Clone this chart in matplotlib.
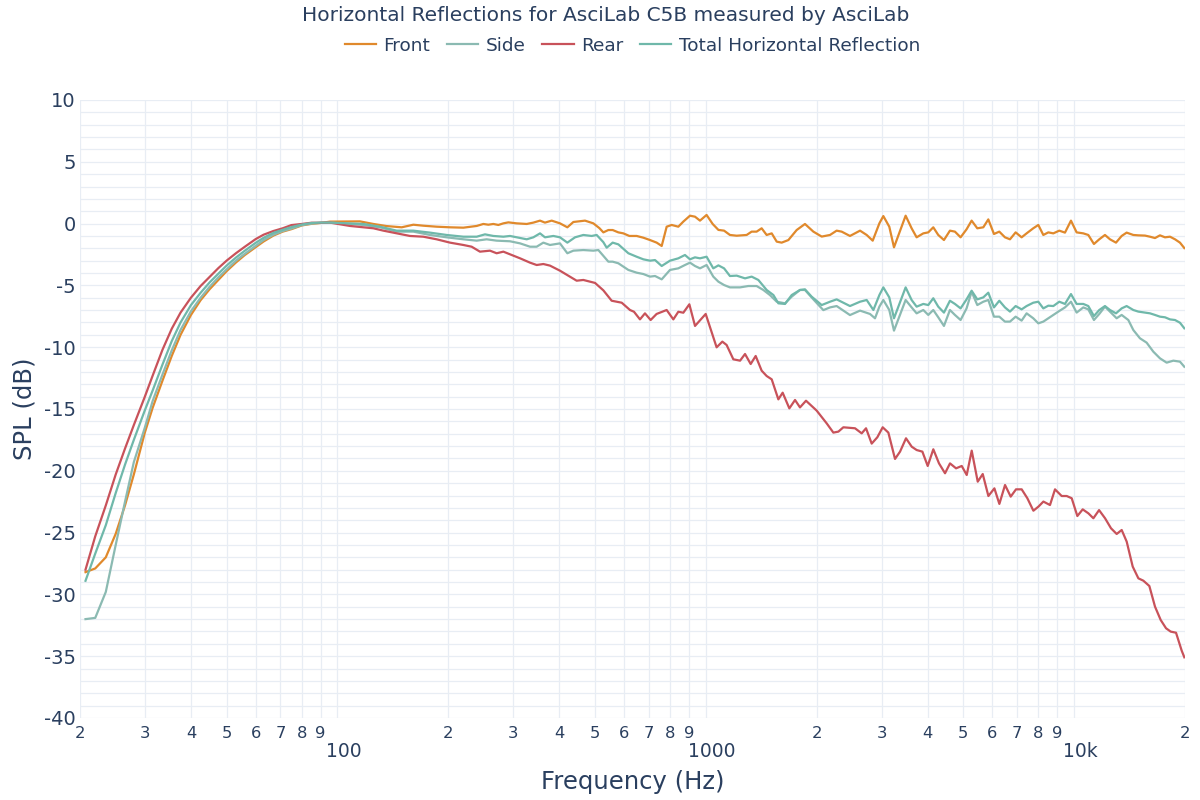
import matplotlib
matplotlib.use("Agg")
import matplotlib.pyplot as plt
from matplotlib.transforms import ScaledTranslation

plt.rcParams['font.family'] = ['DejaVu Sans']

title = "Horizontal Reflections for AsciLab C5B measured by AsciLab"
series_names = ["Front", "Side", "Rear", "Total Horizontal Reflection"]
colors = ["#e0892c", "#8bbab2", "#c8525a", "#6fb8aa"]

lf_freq = [20.7, 22, 23.5, 25, 26.5, 28, 30, 31.5, 33.5, 35.5, 37.5, 40, 42.5, 45,
           47.5, 50, 53, 56, 60, 63, 67, 71, 75, 80, 85, 90]

front_freq = lf_freq + [
    95.45, 115.1, 125.2, 136.0, 149.4, 160.7, 171.1, 185.9, 202.1, 219.7, 238.8, 248.9,
    256.8, 265, 273.4, 282.1, 291.1, 306.7, 326.5, 340.3, 354.8, 365.9, 381.6, 401.9,
    420.9, 437, 455.6, 470, 495.1, 513.9, 527.1, 543.9, 558.7, 578.9, 597.3, 620.1,
    649.1, 676.8, 705.6, 735.6, 759.1, 783.1, 807.9, 842.2, 868.9, 905.9, 934.7, 964.4,
    1005, 1044, 1082, 1121, 1163, 1213, 1291, 1332, 1374, 1418, 1463, 1510, 1558, 1607,
    1676, 1765, 1859, 1959, 2064, 2174, 2266, 2338, 2463, 2623, 2734, 2839, 2960, 3034,
    3149, 3243, 3488, 3621, 3736, 3895, 4018, 4146, 4277, 4432, 4601, 4747, 4918, 5105,
    5269, 5459, 5668, 5848, 6059, 6264, 6490, 6697, 6938, 7202, 7430, 7746, 7994, 8248,
    8511, 8781, 9115, 9444, 9805, 10158, 10591, 10927, 11319, 11703, 12127, 12513, 12992,
    13460, 13886, 14478, 14938, 15574, 16068, 16579, 17103, 17648, 18209, 18788, 19381,
    19914]
front_db = [
    -28.2, -27.9, -27.0, -25.1, -22.8, -20.3, -16.9, -14.9, -12.7, -10.7, -9.0, -7.4,
    -6.2, -5.3, -4.55, -3.85, -3.15, -2.55, -1.9, -1.45, -0.97, -0.65, -0.45, -0.15,
    -0.02, 0.05,
    0.16, 0.18, -0.03, -0.2, -0.3, -0.09, -0.17, -0.25, -0.30, -0.33, -0.19, -0.03,
    -0.09, -0.03, -0.11, 0.02, 0.1, 0.02, -0.03, 0.08, 0.24, 0.08, 0.24, 0.02,
    -0.3, 0.13, 0.19, 0.24, 0.02, -0.36, -0.71, -0.52, -0.52, -0.71, -0.79, -1.0,
    -1.0, -1.14, -1.33, -1.54, -1.81, -0.25, -0.11, -0.25, 0.16, 0.64, 0.56, 0.24,
    0.70, -0.03, -0.51, -0.57, -0.92, -0.98, -0.92, -0.65, -0.65, -0.38, -0.92, -0.79, -1.46, -1.54,
    -1.33, -0.52, -0.03, -0.65, -1.05, -0.92, -0.57, -0.65, -1.0, -0.57, -0.92, -1.38, 0.02, 0.61,
    -0.25, -1.92, 0.64, -0.38, -1.11, -0.79, -0.71, -0.30, -0.92, -1.33, -0.57, -0.65, -1.11, -0.46,
    0.24, -0.38, -0.30, 0.34, -0.84, -0.65, -1.11, -1.27, -0.71, -1.11, -0.79, -0.38, -0.11, -0.92,
    -0.71, -0.79, -0.57, -0.73, 0.24, -0.71, -0.79, -0.92, -1.65, -1.27, -0.92, -1.27, -1.54,
    -1.0, -0.73, -0.92, -0.95, -0.97, -1.06, -1.17, -0.95, -1.11, -1.06, -1.27, -1.54,
    -1.98]

side_freq = lf_freq + [
    95.45, 117.6, 130.5, 144.8, 160.7, 178.3, 197.9, 219.7, 238.8, 254.1, 270.5, 294.1,
    313.2, 333.3, 347.4, 362.2, 377.6, 401.9, 420.9, 437, 465.1, 495.1, 510.9, 543.9,
    558.7, 578.9, 616.3, 649.1, 676.8, 705.6, 728.1, 759.1, 799.5, 842.2, 878, 905.9,
    934.7, 964.4, 1005, 1048, 1082, 1121, 1163, 1239, 1305, 1374, 1433, 1493, 1558, 1641,
    1711, 1802, 1859, 1959, 2085, 2174, 2266, 2463, 2623, 2791, 2880, 2960, 3034,
    3149, 3243, 3488, 3621, 3736, 3895, 4018, 4146, 4277, 4432, 4601, 4747, 4918, 5105,
    5269, 5459, 5668, 5848, 6059, 6264, 6490, 6697, 6938, 7202, 7430, 7746, 7994, 8248,
    8511, 8781, 9115, 9444, 9805, 10158, 10591, 10927, 11319, 11703, 12127, 12513, 13045,
    13460, 14033, 14478, 15092, 15733, 16405, 17103, 17832, 18592, 19381, 19914]
side_db = [
    -32.0, -31.9, -29.8, -26.0, -22.5, -19.3, -16.5, -14.35, -12.2, -10.25, -8.6, -7.1,
    -6.0, -5.1, -4.35, -3.7, -3.0, -2.45, -1.8, -1.33, -0.9, -0.6, -0.4, -0.12,
    0.0, 0.07,
    0.08, -0.11, -0.30, -0.65, -0.65, -0.92, -1.11, -1.27, -1.38, -1.27, -1.38, -1.43,
    -1.6, -1.87, -1.87, -1.54, -1.73, -1.6, -2.4, -2.19, -2.14, -2.19, -2.14, -3.08,
    -3.08, -3.21, -3.75, -3.97, -4.08, -4.29, -4.24, -4.51, -3.75, -3.62, -3.35, -3.16,
    -3.43, -3.62, -3.35, -4.29, -4.7, -4.97, -5.16, -5.16, -5.05, -5.05, -5.37, -5.78, -6.32, -6.45,
    -5.91, -5.37, -5.37, -6.13, -7.0, -6.78, -6.67, -7.4, -7.04, -7.31, -7.66, -6.72, -6.18,
    -6.99, -8.66, -6.18, -6.78, -7.26, -6.99, -7.39, -6.99, -7.58, -8.28, -6.99, -7.39, -7.8, -6.86,
    -5.51, -6.59, -6.32, -6.18, -7.53, -7.53, -7.93, -7.93, -7.53, -7.85, -7.26, -7.66, -8.07, -7.93,
    -7.66, -7.39, -7.07, -6.78, -6.32, -7.2, -6.78, -6.94, -7.8, -7.31, -6.72, -7.12, -7.66,
    -7.39, -7.8, -8.61, -9.28, -9.63, -10.36, -10.9, -11.25, -11.09, -11.17, -11.58]

rear_freq = lf_freq + [
    95.45, 108.1, 117.6, 125.2, 133.2, 144.8, 157.3, 171.1, 185.9, 202.1, 219.7, 231.4,
    243.7, 259.5, 270.5, 282.1, 297.2, 313.2, 333.3, 347.4, 362.2, 377.6, 401.9, 427.9,
    446.1, 465.1, 484.9, 500.4, 527.1, 555.2, 591.2, 622.6, 638.3, 662.7, 683.7, 708.4,
    735.3, 783.0, 816.4, 842.3, 869.0, 902.3, 934.9, 999.4, 1070, 1109, 1139, 1188, 1239,
    1278, 1324, 1366, 1418, 1463, 1510, 1574, 1617, 1686, 1747, 1802, 1871, 2000, 2129,
    2220, 2291, 2363, 2542, 2650, 2723, 2821, 2922, 3022, 3131, 3264, 3368, 3496, 3623,
    3737, 3873, 4004, 4147, 4297, 4462, 4603, 4780, 4953, 5110, 5272, 5474, 5648, 5851,
    6075, 6267, 6493, 6727, 6954, 7205, 7465, 7752, 7999, 8252, 8600, 8874, 9252, 9547,
    9850, 10204, 10551, 10931, 11279, 11687, 12133, 12593, 13048, 13464, 13891, 14423,
    14943, 15415, 16004, 16581, 17181, 17764, 18288, 18909, 19590, 19918]
rear_db = [
    -28.0, -25.3, -22.8, -20.3, -18.2, -16.3, -14.0, -12.3, -10.2, -8.5, -7.2, -6.0,
    -5.05, -4.3, -3.6, -3.0, -2.4, -1.88, -1.25, -0.9, -0.6, -0.38, -0.12, -0.03,
    0.07, 0.07,
    0.08, -0.19, -0.30, -0.38, -0.57, -0.79, -1.0, -1.06, -1.27, -1.54, -1.73, -1.87,
    -2.27, -2.19, -2.4, -2.27, -2.54, -2.81, -3.16, -3.35, -3.27, -3.4, -3.81, -4.3,
    -4.62, -4.56, -4.7, -4.8, -5.4, -6.24, -6.4, -6.99, -7.13, -7.75, -7.26, -7.8,
    -7.31, -6.99, -7.75, -7.13, -7.21, -6.53, -8.28, -7.31, -10.01, -9.55, -9.82, -10.98, -11.09,
    -10.55, -11.36, -10.71, -11.9, -12.33, -12.6, -14.22, -13.68, -14.95, -14.27, -14.87, -14.33, -15.13, -16.16,
    -16.91, -16.83, -16.48, -16.56, -16.97, -16.56, -17.8, -17.29, -16.48, -16.91, -19.04, -18.45, -17.37, -18.05,
    -18.32, -18.45, -19.61, -18.26, -19.4, -20.2, -19.4, -19.8, -19.61, -20.34, -18.37, -20.88, -20.26, -22.04,
    -21.42, -22.68, -21.15, -22.09, -21.5, -21.5, -22.22, -23.23, -22.9, -22.49, -22.77, -21.5, -22.04, -22.04,
    -22.22, -23.66, -23.12, -23.44, -23.84, -23.18, -23.84, -24.65, -25.11, -24.79, -25.73, -27.75,
    -28.7, -28.89, -29.32, -30.99, -32.07, -32.74, -33.01, -33.1, -34.55, -35.09]

total_freq = lf_freq + [
    95.45, 117.6, 130.5, 144.8, 160.7, 178.3, 197.9, 219.7, 238.8, 251.5, 265, 282.1,
    294.1, 306.7, 326.5, 340.3, 354.8, 365.9, 385.6, 401.9, 420.9, 441.6, 465.1, 490,
    505.5, 527, 538.2, 558.7, 578.9, 616.3, 649.1, 676.8, 705.6, 728.1, 759.1, 799.5,
    842.2, 878, 905.9, 934.7, 964.4, 1005, 1048, 1082, 1121, 1163, 1213, 1278, 1332,
    1389, 1463, 1526, 1574, 1641, 1711, 1802, 1859, 1938, 2064, 2174, 2266, 2363, 2463,
    2623, 2734, 2851, 2960, 3034,
    3149, 3243, 3488, 3621, 3736, 3895, 4018, 4146, 4277, 4432, 4601, 4747, 4918, 5105,
    5269, 5459, 5668, 5848, 6059, 6264, 6490, 6697, 6938, 7202, 7430, 7746, 7994, 8248,
    8511, 8781, 9115, 9444, 9805, 10158, 10591, 10927, 11319, 11703, 12127, 12513, 12992,
    13460, 13886, 14478, 14938, 15574, 16068, 16579, 17103, 17648, 18209, 18788, 19381,
    19914]
total_db = [
    -28.9, -26.7, -24.4, -21.8, -19.5, -17.5, -15.1, -13.5, -11.4, -9.5, -8.0, -6.6,
    -5.6, -4.75, -4.05, -3.4, -2.75, -2.2, -1.55, -1.15, -0.75, -0.5, -0.28, -0.08,
    0.05, 0.08,
    0.08, -0.03, -0.25, -0.57, -0.57, -0.73, -0.92, -1.06, -1.06, -0.87, -1.0, -1.06,
    -1.0, -1.11, -1.27, -1.11, -0.79, -1.11, -1.0, -1.11, -1.54, -1.11, -0.92, -1.0,
    -0.92, -1.5, -1.95, -1.54, -1.68, -2.4, -2.68, -2.89, -3.0, -2.95, -3.43, -3.0,
    -2.81, -2.54, -2.89, -2.73, -2.81, -2.68, -3.62, -3.38, -3.62, -4.24, -4.21, -4.43, -4.29,
    -4.56, -5.37, -5.78, -6.45, -6.5, -5.78, -5.37, -5.32, -5.91, -6.59, -6.32, -6.13, -6.4, -6.67,
    -6.32, -6.18, -6.99, -5.78, -5.16,
    -5.97, -7.66, -5.16, -6.18, -6.72, -6.5, -6.59, -6.04, -6.72, -7.2, -6.24, -6.5, -6.86, -6.13,
    -5.43, -6.13, -5.97, -5.59, -6.78, -6.24, -6.78, -7.12, -6.67, -6.94, -6.67, -6.4, -6.32, -6.86,
    -6.64, -6.67, -6.32, -6.5, -5.7, -6.5, -6.5, -6.67, -7.48, -6.99, -6.67, -6.99, -7.26,
    -6.86, -6.67, -6.99, -7.12, -7.2, -7.26, -7.39, -7.53, -7.58, -7.75, -7.8, -8.02,
    -8.47]

y_ticks = [10, 5, 0, -5, -10, -15, -20, -25, -30, -35, -40]
x_major = [100, 1000, 10000]
x_major_labels = ["100", "1000", "10k"]
x_minor = [20, 30, 40, 50, 60, 70, 80, 90, 200, 300, 400, 500, 600, 700, 800, 900,
           2000, 3000, 4000, 5000, 6000, 7000, 8000, 9000, 20000]
x_minor_labels = ["2", "3", "4", "5", "6", "7", "8", "9", "2", "3", "4", "5", "6", "7",
                  "8", "9", "2", "3", "4", "5", "6", "7", "8", "9", "2"]

text_color = "#2a3f5f"
grid_color = "#e8edf4"

fig = plt.figure(figsize=(12, 8), dpi=100)
ax = fig.add_axes([80 / 1200, 82 / 800, 1105 / 1200, 618 / 800])

data = [(front_freq, front_db), (side_freq, side_db), (rear_freq, rear_db), (total_freq, total_db)]
for (fq, db), name, c in zip(data, series_names, colors):
    ax.plot(fq, db, color=c, lw=1.6, label=name, solid_joinstyle='round')

ax.set_xscale('log')
ax.set_xlim(20, 20000)
ax.set_ylim(-40, 10)

ax.set_xticks(x_major)
ax.set_xticklabels(x_major_labels)
ax.set_xticks(x_minor, minor=True)
ax.set_xticklabels(x_minor_labels, minor=True)
ax.set_yticks(y_ticks)
ax.set_yticks(list(range(-40, 11)), minor=True)
ax.set_yticklabels([str(v) for v in y_ticks])

ax.tick_params(axis='x', which='major', length=0, pad=17, labelsize=13.5, colors=text_color)
ax.tick_params(axis='x', which='minor', length=0, pad=6, labelsize=11.8, colors=text_color)
ax.tick_params(axis='y', which='both', length=0, pad=3, labelsize=14, colors=text_color)

shift = ScaledTranslation(6 / 100, 0, fig.dpi_scale_trans)
for lab in ax.get_xticklabels(which='major'):
    lab.set_transform(lab.get_transform() + shift)

ax.grid(True, which='both', axis='both', color=grid_color, lw=0.9)
ax.set_axisbelow(True)
for s in ax.spines.values():
    s.set_visible(False)

ax.set_xlabel("Frequency (Hz)", fontsize=17.5, color=text_color, labelpad=7)
ax.set_ylabel("SPL (dB)", fontsize=17.5, color=text_color, labelpad=5)

fig.text(0.505, 0.981, title, ha='center', va='center', fontsize=14.5, color=text_color)
fig.legend(loc='center', bbox_to_anchor=(0.527, 0.943), ncol=4, frameon=False,
           fontsize=13.3, handlelength=1.7, handletextpad=0.4, columnspacing=0.9,
           labelcolor=text_color)

fig.savefig("out.png", dpi=100, facecolor='white')
